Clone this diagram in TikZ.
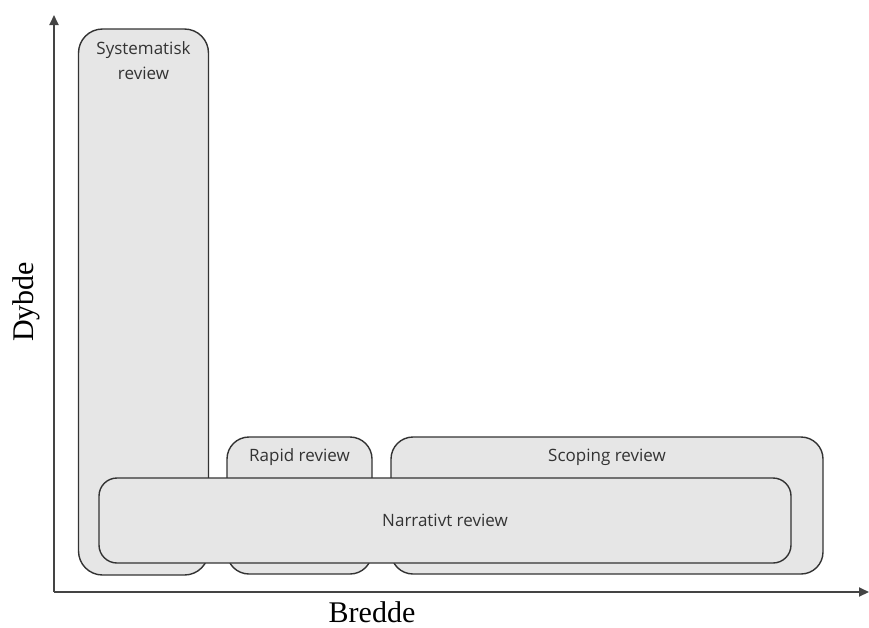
\documentclass[tikz,border=0pt]{standalone}
\usepackage{fontspec}
\setmainfont{Liberation Serif}
\newfontfamily\boxfont{Open Sans}
\usetikzlibrary{arrows.meta, positioning}

\definecolor{boxfill}{HTML}{E6E6E6}
\definecolor{boxline}{HTML}{333333}
\definecolor{axisline}{HTML}{444444}

\tikzset{
    reviewbox/.style={draw=boxline, fill=boxfill, line width=1.4pt, inner sep=0pt, rounded corners=24pt},
    boxlabel/.style={text=boxline, font=\boxfont\fontsize{17}{25}\selectfont, align=center, inner sep=0pt},
    axislabel/.style={text=black, font=\fontsize{30}{36}\selectfont, inner sep=0pt, anchor=base},
    axis/.style={draw=axisline, line width=1.8pt, -{Triangle[length=10pt, width=9pt]}}
}

\begin{document}
\begin{tikzpicture}[x=1pt, y=-1pt]
    \useasboundingbox (0,0) rectangle (869,627);
    % akser
    \coordinate (O) at (54,592);
    \coordinate (top) at (54,15);
    \coordinate (right) at (869,592);
    \draw[axis] (O) -- (top);
    \draw[axis] (O) -- (right);
    \node[axislabel] (bredde) at (372,622) {Bredde};
    \node[axislabel, rotate=90] (dybde) at (33,302) {Dybde};
    % bokser
    \node[reviewbox, minimum width=130pt, minimum height=546pt] (sys) at (143.5,302) {};
    \node[reviewbox, minimum width=145pt, minimum height=137pt, rounded corners=22pt] (rapid) at (299.5,505.5) {};
    \node[reviewbox, minimum width=432pt, minimum height=137pt, rounded corners=22pt] (scop) at (607,505.5) {};
    \node[reviewbox, minimum width=692pt, minimum height=85pt, rounded corners=18pt] (narr) at (445,520.5) {};
    % tekst
    \node[boxlabel, below=13pt of sys.north] (syslabel) {Systematisk\\review};
    \node[boxlabel] (rapidlabel) at (299.5,457) {Rapid review};
    \node[boxlabel] (scoplabel) at (607,457) {Scoping review};
    \node[boxlabel] (narrlabel) at (narr.center) {Narrativt review};
\end{tikzpicture}
\end{document}
